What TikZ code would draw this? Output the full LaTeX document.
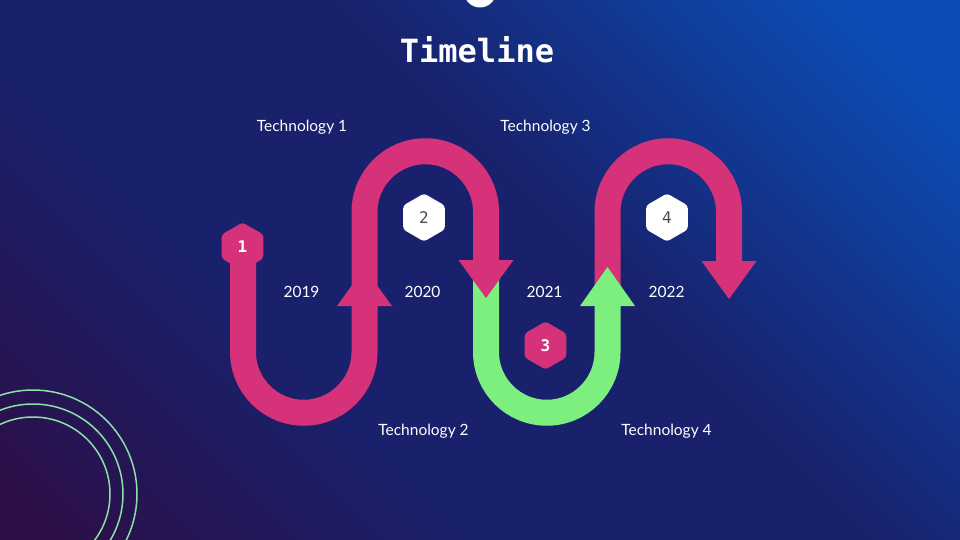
\documentclass[tikz,border=0pt]{standalone}
\usepackage{fontspec}
\setmainfont{Lato}
\newfontfamily\monofont{DejaVu Sans Mono}
\usetikzlibrary{shapes.geometric}
\definecolor{bgpurple}{HTML}{2C0F48}
\definecolor{bgnavy}{HTML}{19216C}
\definecolor{bgblue}{HTML}{0B4DB5}
\definecolor{ribbonpink}{HTML}{D6327A}
\definecolor{ribbongreen}{HTML}{7DEF7F}
\definecolor{ringgreen}{HTML}{8BE2A6}
\definecolor{digitgray}{HTML}{4A4A55}
\pgfdeclareverticalshading{bgshade}{100bp}{color(0bp)=(bgpurple); color(17bp)=(bgpurple); color(37bp)=(bgnavy); color(56bp)=(bgnavy); color(80bp)=(bgblue); color(100bp)=(bgblue)}
\tikzset{
  pinkband/.style={draw=ribbonpink, line width=26pt},
  greenband/.style={draw=ribbongreen, line width=26pt},
  hexa/.style={regular polygon, regular polygon sides=6, regular polygon rotate=30,
    minimum size=48pt, inner sep=0pt, rounded corners=3pt,
    font=\monofont\fontsize{16}{18}\selectfont},
  techtext/.style={anchor=base, text=white, font=\fontsize{15.5}{18}\selectfont},
}
\begin{document}
\begin{tikzpicture}[x=1pt,y=1pt]
\tikzstyle{every node}+=[inner sep=0pt]
\useasboundingbox (0,0) rectangle (960,-540);
\clip (0,0) rectangle (960,-540);
\shade [shading=bgshade, shading angle=-45] (0,0) rectangle (960,-540);
\draw [ringgreen, line width=1.5pt] (33,-494) circle (104);
\draw [ringgreen, line width=1.5pt] (33,-494) circle (90);
\draw [ringgreen, line width=1.5pt] (33,-494) circle (77);
\fill [white] (480,8.5) circle (16);
\node [text=white, font=\monofont\bfseries\fontsize{32}{36}\selectfont] (title) at (477,-50) {Timeline};
\coordinate (s1) at (243,-250);
\coordinate (u1) at (243,-352);
\coordinate (t1) at (364.5,-212);
\coordinate (e1) at (486,-272);
\coordinate (s2) at (486,-264);
\coordinate (u2) at (486,-352);
\coordinate (e2) at (607.5,-300);
\coordinate (s3) at (607.5,-292);
\coordinate (t3) at (607.5,-212);
\coordinate (e3) at (729,-270);
\draw [pinkband] (s1) -- (u1) arc [start angle=180, end angle=360, radius=60.75] -- (t1) arc [start angle=180, end angle=0, radius=60.75] -- (e1);
\draw [greenband] (s2) -- (u2) arc [start angle=180, end angle=360, radius=60.75] -- (e2);
\draw [pinkband] (s3) -- (t3) arc [start angle=180, end angle=0, radius=60.75] -- (e3);
\coordinate (a1) at (364.5,-306);
\fill [ribbonpink] (a1) ++(-27.5,0) -- ++(55,0) -- ++(-27.5,38) -- cycle;
\coordinate (a2) at (486,-260);
\fill [ribbonpink] (a2) ++(-27.5,0) -- ++(55,0) -- ++(-27.5,-38) -- cycle;
\coordinate (a3) at (607.5,-306);
\fill [ribbongreen] (a3) ++(-27.5,0) -- ++(55,0) -- ++(-27.5,39) -- cycle;
\coordinate (a4) at (729,-261);
\fill [ribbonpink] (a4) ++(-27.5,0) -- ++(55,0) -- ++(-27.5,-38) -- cycle;
\node [hexa, fill=ribbonpink, text=white, font=\monofont\bfseries\fontsize{16}{18}\selectfont] (h1) at (242.5,-246.5) {1};
\node [hexa, fill=white, text=digitgray] (h2) at (424,-217.5) {2};
\node [hexa, fill=ribbonpink, text=white, font=\monofont\bfseries\fontsize{16}{18}\selectfont] (h3) at (545.5,-345.5) {3};
\node [hexa, fill=white, text=digitgray] (h4) at (667,-217.5) {4};
\node [techtext] (tech1) at (302,-131.5) {Technology 1};
\node [techtext] (tech2) at (423.5,-435) {Technology 2};
\node [techtext] (tech3) at (545.5,-131.5) {Technology 3};
\node [techtext] (tech4) at (666.5,-435) {Technology 4};
\node [techtext] (y2019) at (301.5,-297) {2019};
\node [techtext] (y2020) at (422.5,-297) {2020};
\node [techtext] (y2021) at (544.5,-297) {2021};
\node [techtext] (y2022) at (666.5,-297) {2022};
\end{tikzpicture}
\end{document}
